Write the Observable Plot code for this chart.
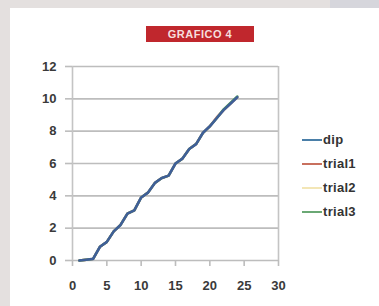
<!DOCTYPE html>
<html>
<head>
<meta charset="utf-8">
<script src="https://cdn.jsdelivr.net/npm/d3@7"></script>
<script src="https://cdn.jsdelivr.net/npm/@observablehq/plot@0.6"></script>
<style>
  html, body { margin: 0; padding: 0; }
  body { width: 379px; height: 306px; background: #e4e0df; position: relative; overflow: hidden; font-family: "Liberation Sans", Arial, sans-serif; }
  #panel { position: absolute; left: 10px; top: 8px; right: 0; bottom: 0; background: #ffffff; }
  #corner { position: absolute; left: 330px; top: 0; width: 49px; height: 8px; background: #d6d6dc; }
  #chart { position: absolute; left: 0; top: 0; }
  #title { position: absolute; left: 146px; top: 26px; width: 108px; height: 16px; background: #c0272d; color: #f6dede; font-size: 11px; font-weight: bold; text-align: center; line-height: 16px; letter-spacing: 0.5px; }
  #legend { position: absolute; left: 302px; top: 132px; font-size: 13px; color: #333; }
  .item { position: absolute; left: 0; height: 16px; white-space: nowrap; }
  .item .sw { position: absolute; left: 0; top: 7px; width: 20px; height: 2px; }
  .item .lb { position: absolute; left: 21px; top: 0; line-height: 16px; font-weight: bold; letter-spacing: 0.3px; }
</style>
</head>
<body>
<div id="corner"></div>
<div id="panel"></div>
<div id="chart"></div>
<div id="title"></div>
<div id="legend"></div>
<script>
const title = "GRAFICO 4";
const seriesNames = ["dip", "trial1", "trial2", "trial3"];
const seriesColors = ["#4a7fa8", "#c8705e", "#f3e6b6", "#6aa874"];
const lineColors = ["#3f5f98", "#c0504d", "#f3e2a6", "#4e9a5e"];
const xValues = [1, 2, 3, 4, 5, 6, 7, 8, 9, 10, 11, 12, 13, 14, 15, 16, 17, 18, 19, 20, 21, 22, 23, 24];
const dip    = [0, 0.05, 0.1, 0.85, 1.15, 1.8, 2.2, 2.9, 3.1, 3.9, 4.2, 4.8, 5.1, 5.25, 6.0, 6.3, 6.9, 7.2, 7.9, 8.3, 8.8, 9.3, 9.7, 10.1];
const trial1 = [0, 0.05, 0.1, 0.85, 1.15, 1.8, 2.2, 2.9, 3.1, 3.9, 4.2, 4.8, 5.1, 5.25, 6.0, 6.3, 6.9, 7.2, 7.9, 8.3, 8.85, 9.3, 9.7, 10.1];
const trial2 = [0, 0.05, 0.1, 0.85, 1.15, 1.8, 2.2, 2.9, 3.1, 3.9, 4.2, 4.8, 5.1, 5.25, 6.0, 6.3, 6.9, 7.2, 7.9, 8.3, 8.8, 9.3, 9.7, 10.1];
const trial3 = [0, 0.05, 0.1, 0.85, 1.15, 1.8, 2.2, 2.9, 3.1, 3.9, 4.2, 4.8, 5.1, 5.25, 6.0, 6.3, 6.9, 7.2, 7.9, 8.3, 8.8, 9.35, 9.75, 10.15];
const xTicks = [0, 5, 10, 15, 20, 25, 30];
const yTicks = [0, 2, 4, 6, 8, 10, 12];

const seriesValues = [dip, trial1, trial2, trial3];
const rows = [];
seriesNames.forEach((name, i) => {
  xValues.forEach((x, j) => rows.push({series: name, x, y: seriesValues[i][j]}));
});
const drawOrder = ["trial1", "trial2", "trial3", "dip"];
const colorOf = Object.fromEntries(seriesNames.map((n, i) => [n, lineColors[i]]));

const lineMarks = drawOrder.map(name =>
  Plot.line(rows.filter(r => r.series === name), {
    x: "x", y: "y", stroke: colorOf[name], strokeWidth: name === "dip" ? 2.6 : 2.4, curve: "linear"
  })
);

const chart = Plot.plot({
  width: 379,
  height: 306,
  marginLeft: 72,
  marginRight: 101,
  marginTop: 66,
  marginBottom: 46,
  style: { background: "transparent", fontFamily: "Liberation Sans, Arial, sans-serif", fontSize: "13px", color: "#3a3a3a", fontWeight: "bold" },
  x: { domain: [0, 30], ticks: xTicks, label: null },
  y: { domain: [0, 12], ticks: yTicks, label: null },
  marks: [
    Plot.ruleY(yTicks, { stroke: "#bdbdbd", strokeWidth: 1.6 }),
    Plot.ruleX([0, 30], { stroke: "#c4c4c4", strokeWidth: 1.6 }),
    Plot.axisY({ ticks: yTicks, tickSize: 7, tickPadding: 9, stroke: "#bdbdbd", strokeWidth: 1.6, label: null }),
    Plot.axisX({ ticks: xTicks, tickSize: 6, tickPadding: 14, stroke: "#bdbdbd", strokeWidth: 1.6, label: null }),
    ...lineMarks
  ]
});
document.getElementById("chart").appendChild(chart);
document.getElementById("title").textContent = title;

const legend = document.getElementById("legend");
const legendOffsets = [0, 24, 48, 72];
seriesNames.forEach((name, i) => {
  const item = document.createElement("div");
  item.className = "item";
  item.style.top = legendOffsets[i] + "px";
  item.innerHTML = `<span class="sw" style="background:${seriesColors[i]}"></span><span class="lb">${name}</span>`;
  legend.appendChild(item);
});
</script>
</body>
</html>
